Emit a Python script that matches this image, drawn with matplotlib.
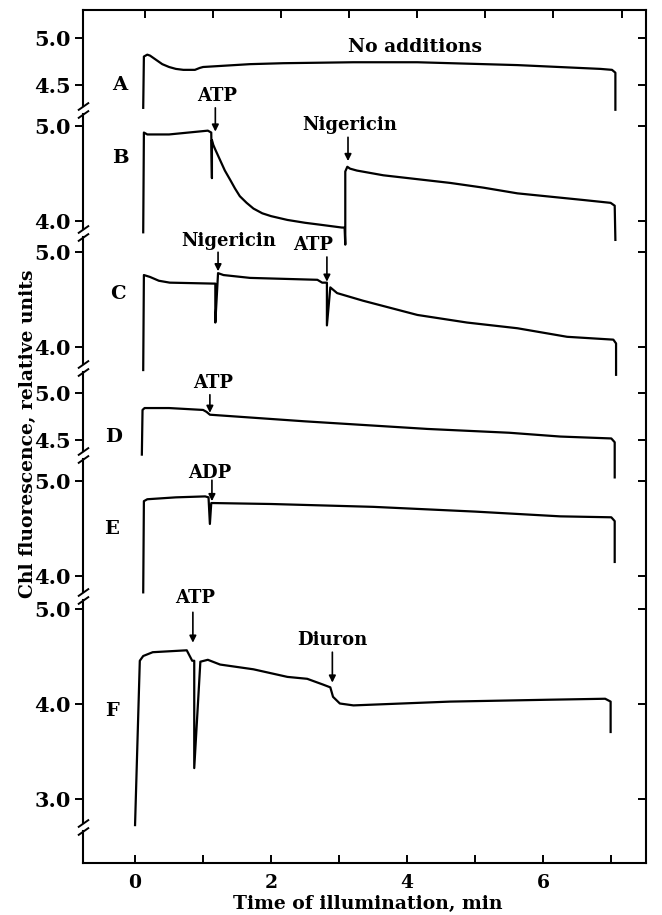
import numpy as np
import matplotlib
matplotlib.use('Agg')
import matplotlib.pyplot as plt
from matplotlib.lines import TICKLEFT

plt.rcParams['font.family'] = 'DejaVu Serif'
plt.rcParams['font.weight'] = 'bold'

# ---- data (time in min, Chl fluorescence in relative units) ----
panels = ['A', 'B', 'C', 'D', 'E', 'F']
ylims = [(4.24, 5.29), (3.87, 5.17), (3.78, 5.20), (4.35, 5.26), (3.79, 5.28), (2.71, 5.14)]
yticks = [[4.5, 5.0], [4.0, 5.0], [4.0, 5.0], [4.5, 5.0], [4.0, 5.0], [3.0, 4.0, 5.0]]

A_t = [0.12, 0.13, 0.18, 0.22, 0.30, 0.40, 0.50, 0.60, 0.71, 0.88, 0.95, 1.00, 1.69, 2.18, 3.21, 4.15,
       5.62, 6.84, 7.01, 7.06, 7.06]
A_v = [4.26, 4.80, 4.82, 4.81, 4.77, 4.72, 4.69, 4.67, 4.66, 4.66, 4.68, 4.69, 4.72, 4.73, 4.74, 4.74,
       4.71, 4.67, 4.66, 4.63, 4.24]

B_t = [0.12, 0.13, 0.18, 0.50, 1.07, 1.12, 1.13, 1.13, 1.15, 1.18, 1.25, 1.32, 1.40, 1.47, 1.54, 1.64,
       1.74, 1.87, 2.00, 2.24, 2.50, 2.72, 3.04, 3.08, 3.09, 3.09, 3.12, 3.16, 3.26, 3.65, 4.63, 5.12,
       5.62, 6.59, 6.99, 7.05, 7.06]
B_v = [3.88, 4.93, 4.91, 4.91, 4.95, 4.93, 4.45, 4.85, 4.80, 4.75, 4.64, 4.53, 4.43, 4.34, 4.26, 4.19,
       4.13, 4.08, 4.05, 4.01, 3.98, 3.96, 3.93, 3.93, 3.75, 4.52, 4.57, 4.55, 4.53, 4.48, 4.40, 4.35,
       4.29, 4.22, 4.19, 4.16, 3.80]

C_t = [0.12, 0.13, 0.22, 0.35, 0.51, 1.15, 1.18, 1.18, 1.22, 1.30, 1.69, 2.68, 2.75, 2.82, 2.82, 2.87,
       2.97, 3.35, 4.15, 4.88, 5.62, 6.35, 7.03, 7.07, 7.07]
C_v = [3.76, 4.76, 4.74, 4.70, 4.68, 4.67, 4.67, 4.26, 4.78, 4.76, 4.73, 4.71, 4.68, 4.68, 4.23, 4.63,
       4.57, 4.49, 4.34, 4.26, 4.20, 4.11, 4.08, 4.04, 3.71]

D_t = [0.10, 0.11, 0.14, 0.50, 1.00, 1.05, 1.10, 1.30, 2.50, 4.30, 5.50, 6.25, 7.00, 7.05, 7.05]
D_v = [4.35, 4.82, 4.84, 4.84, 4.82, 4.80, 4.77, 4.76, 4.70, 4.62, 4.58, 4.54, 4.52, 4.48, 4.11]

E_t = [0.12, 0.13, 0.18, 0.60, 1.03, 1.08, 1.10, 1.12, 1.15, 2.00, 3.50, 5.00, 6.25, 7.00, 7.05, 7.05]
E_v = [3.83, 4.79, 4.81, 4.83, 4.84, 4.83, 4.55, 4.77, 4.77, 4.76, 4.73, 4.68, 4.63, 4.62, 4.58, 4.15]

F_t = [0.00, 0.07, 0.12, 0.26, 0.76, 0.84, 0.87, 0.87, 0.96, 1.07, 1.25, 1.74, 2.24, 2.53, 2.76, 2.87,
       2.91, 3.01, 3.21, 4.63, 6.10, 6.91, 6.99, 6.99]
F_v = [2.73, 4.46, 4.51, 4.55, 4.57, 4.46, 4.46, 3.33, 4.45, 4.47, 4.42, 4.37, 4.29, 4.27, 4.21, 4.18,
       4.08, 4.01, 3.99, 4.03, 4.05, 4.06, 4.03, 3.71]

traces = [(A_t, A_v), (B_t, B_v), (C_t, C_v), (D_t, D_v), (E_t, E_v), (F_t, F_v)]

# additions: panel, label, time of addition
ev_panel = ['B', 'B', 'C', 'C', 'D', 'E', 'F', 'F']
ev_label = ['ATP', 'Nigericin', 'Nigericin', 'ATP', 'ATP', 'ADP', 'ATP', 'Diuron']
ev_time = [1.18, 3.13, 1.22, 2.82, 1.10, 1.13, 0.85, 2.90]

x_labels = [0, 2, 4, 6]
x_minor = [1, 3, 5, 7]

# ---- layout ----
W, H = 662, 915
PX = 95.0           # pixels per fluorescence unit
left_px, right_px, top_px, bot_px = 83, 646, 10, 863
xlim = (-0.765, 7.51)

fig = plt.figure(figsize=(W / 100, H / 100), dpi=100)

ax0 = fig.add_axes([left_px / W, 1 - bot_px / H, (right_px - left_px) / W, (bot_px - top_px) / H])
ax0.set_xlim(xlim)
ax0.set_ylim(0, 1)
ax0.set_yticks([])
ax0.set_xticks(x_labels)
ax0.set_xticks(x_minor, minor=True)
ax0.tick_params(axis='x', which='both', direction='in', length=6, width=1.4,
                labelsize=13.5, pad=8, top=False)
for s in ax0.spines.values():
    s.set_linewidth(1.5)
ax0.set_xticklabels([str(v) for v in x_labels])

# top ticks (slightly shifted in the original)
top = ax0.secondary_xaxis('top')
top.set_xticks(np.arange(8) + 0.15)
top.tick_params(direction='in', length=6, width=1.4, labeltop=False)
top.spines['top'].set_visible(False)

gap = 4.0 / PX
span = bot_px - top_px
pad_below = (span - sum((hi - lo) * PX for lo, hi in ylims)) / span
ax0.spines['left'].set_bounds(0, pad_below - 4.0 / span)
brk = dict(marker=[(-1, -0.7), (1, 0.7)], markersize=8, linestyle='none',
           color='k', mec='k', mew=1.4, clip_on=False)
ax0.plot([0], [pad_below - 4.0 / span], transform=ax0.get_yaxis_transform(), **brk)

axes = {}
y_cursor = top_px
for i, name in enumerate(panels):
    lo, hi = ylims[i]
    h = (hi - lo) * PX
    ax = fig.add_axes([left_px / W, 1 - (y_cursor + h) / H, (right_px - left_px) / W, h / H])
    y_cursor += h
    ax.set_xlim(xlim)
    ax.set_ylim(lo, hi)
    ax.patch.set_visible(False)
    for k in ['top', 'bottom', 'right']:
        ax.spines[k].set_visible(False)
    ax.spines['left'].set_linewidth(1.5)
    top_end = hi if i == 0 else hi - gap
    ax.spines['left'].set_bounds(lo + gap, top_end)
    ax.plot([0], [lo + gap], transform=ax.get_yaxis_transform(), **brk)
    if i > 0:
        ax.plot([0], [hi - gap], transform=ax.get_yaxis_transform(), **brk)
    ax.set_xticks([])
    ax.set_yticks(yticks[i])
    ax.set_yticklabels(['%.1f' % v for v in yticks[i]])
    ax.tick_params(axis='y', left=True, right=True, direction='out', length=6, width=1.4,
                   labelsize=15, pad=3)
    # right side ticks point inward
    for tk in ax.yaxis.get_major_ticks():
        tk.tick2line.set_marker(TICKLEFT)
    t, v = traces[i]
    ax.plot(t, v, color='k', lw=1.6, clip_on=False, solid_joinstyle='round')
    axes[name] = ax

# panel letters
letter_pos = {'A': (-0.22, 4.505), 'B': (-0.22, 4.66), 'C': (-0.25, 4.56),
              'D': (-0.32, 4.54), 'E': (-0.34, 4.50), 'F': (-0.34, 3.93)}
for name in panels:
    x, y = letter_pos[name]
    axes[name].text(x, y, name, ha='center', va='center', fontsize=14, clip_on=False)

axes['A'].text(4.12, 4.905, 'No additions', ha='center', va='center', fontsize=13.5, clip_on=False)

# arrow: (tail value, tip value, text x, text y) in the panel's own units
ev_layout = [(5.19, 4.94, 1.20, 5.316), (4.88, 4.63, 3.16, 5.01),
             (5.00, 4.80, 1.37, 5.116), (4.95, 4.69, 2.62, 5.08),
             (4.98, 4.79, 1.15, 5.105), (5.01, 4.79, 1.10, 5.084),
             (4.97, 4.65, 0.88, 5.116), (4.55, 4.23, 2.90, 4.68)]
for p, lab, t, (tail, tip, tx, ty) in zip(ev_panel, ev_label, ev_time, ev_layout):
    ax = axes[p]
    ax.annotate('', xy=(t, tip), xytext=(t, tail), annotation_clip=False,
                arrowprops=dict(arrowstyle='-|>', color='k', lw=1.2, mutation_scale=10,
                                shrinkA=0, shrinkB=0))
    ax.text(tx, ty, lab, ha='center', va='center', fontsize=13, clip_on=False)

fig.text(28 / W, 1 - 434 / H, 'Chl fluorescence, relative units', rotation=90,
         ha='center', va='center', fontsize=13.5)
fig.text(368 / W, 1 - 904 / H, 'Time of illumination, min', ha='center', va='center', fontsize=13.5)

fig.savefig('out.png', dpi=100)
